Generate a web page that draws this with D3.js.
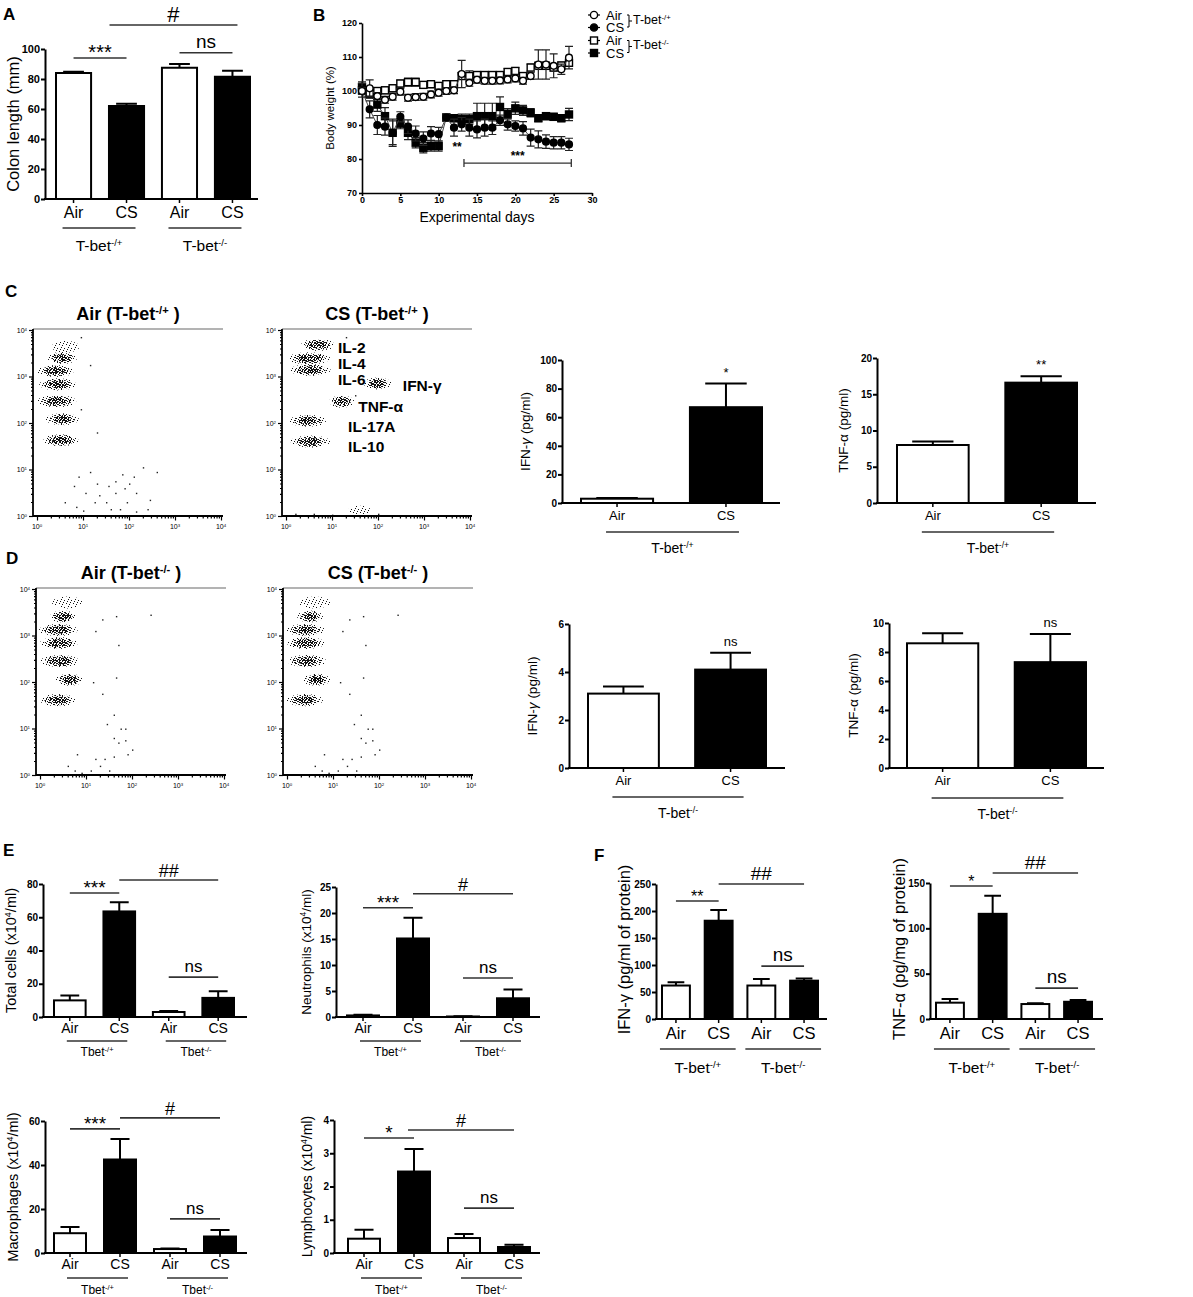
<!DOCTYPE html>
<html>
<head>
<meta charset="utf-8">
<script src="https://cdn.jsdelivr.net/npm/d3@7"></script>
<style>
  body { margin: 0; background: #fff; }
  text { font-family: "Liberation Sans", Arial, sans-serif; }
</style>
</head>
<body>
<script>
// ---------------- data ----------------
// A: colon length
const aCats = ["Air", "CS", "Air", "CS"];
const aColon = [84, 62, 87.5, 81.5];
const aColonErr = [0.8, 1.5, 2.5, 4];

// B: body weight over time
const bDays = [0, 1, 2, 3, 4, 5, 6, 7, 8, 9, 10, 11, 12, 13, 14, 15, 16, 17, 18, 19, 20, 21, 22, 23, 24, 25, 26, 27];
const bAirHet = [100, 100.8, 98.5, 97.4, 98.3, 99.8, 98, 98.2, 98.3, 99, 99.5, 100, 100.2, 105, 102.4, 103.3, 103, 103, 103.1, 103.4, 103.7, 103, 104.4, 107.8, 107.8, 107.4, 106.4, 109.8];
const bAirHetErr = [1, 2.5, 1, 1, 1, 1, 1, 1, 1, 1, 1, 1, 1, 4, 1, 1, 1, 1, 1, 1, 1, 1, 1, 4.3, 4.3, 3.5, 1.5, 3.3];
const bCsHet = [100, 94.6, 90, 89.5, 87.7, 92.4, 89.5, 87.5, 86, 87.5, 87.3, 92.2, 89.2, 90.2, 89.2, 88.7, 89.2, 89.2, 91.4, 90.2, 89.7, 89, 86.3, 85.8, 85.1, 84.8, 84.8, 84.3];
const bCsHetErr = [1, 2.5, 2.8, 2.5, 3.5, 1.5, 2, 2.2, 2, 2, 2, 1, 2.5, 2, 2.5, 2.5, 2.5, 2, 1.5, 1.7, 1.5, 2, 2.5, 2.5, 2, 1.8, 1.8, 1.8];
const bAirKo = [100.2, 99.5, 100, 100.2, 100.8, 102.2, 102.6, 102.6, 101.8, 102, 101.5, 102, 102, 104.4, 104.4, 104.7, 104.7, 104.7, 104.7, 105.6, 105.9, 104.4, 106.9, 107.4, 107.4, 106.9, 107.5, 108.3];
const bAirKoErr = [2, 1, 1, 1, 1, 1, 1.2, 1.2, 1, 1, 1, 1, 1, 1, 1.5, 1, 1, 1, 1, 1, 1, 1, 1, 1, 1, 1, 1, 1];
const bCsKo = [101.2, 99, 96, 92.6, 87.7, 90.4, 87.7, 84.8, 83.3, 83.8, 83.8, 92.2, 92, 91.7, 91.7, 92.6, 92.6, 92.6, 95.3, 93.3, 94.9, 94.3, 93.6, 92, 92.6, 92.4, 92, 93.1];
const bCsKoErr = [1.5, 1, 2, 2.5, 4, 1.5, 2, 1.5, 1.5, 1.5, 1.5, 1, 1, 1.5, 1.5, 3.8, 3.8, 3.8, 3, 1.5, 1.8, 1.5, 1.2, 1, 1, 1, 1, 1.8];

// C / D flow plots: clusters [log10 x, log10 y, half-width (decades), half-height (decades), density]
const cAirClusters = [[0.62, 3.64, 0.3, 0.13, 0.4], [0.55, 3.4, 0.32, 0.13, 1], [0.4, 3.12, 0.4, 0.13, 1], [0.45, 2.83, 0.4, 0.13, 1], [0.43, 2.47, 0.42, 0.13, 1], [0.55, 2.08, 0.36, 0.13, 1], [0.52, 1.63, 0.38, 0.13, 1]];
const cAirDots = [[1.15, 0.95], [0.9, 0.85], [1.3, 0.7], [1.55, 0.65], [1.7, 0.75], [1.85, 0.9], [2.1, 0.85], [2.3, 1.05], [2.6, 0.95], [1.9, 0.6], [2.15, 0.5], [1.7, 0.5], [1.35, 0.45], [1.5, 0.3], [1.95, 0.3], [2.15, 0.1], [2.4, 0.15], [0.8, 0.65], [0.6, 0.3], [0.85, 0.2], [1.0, 0.12], [1.8, 0.15], [1.25, 0.3], [2.0, 0.7], [2.45, 0.35], [1.6, 0.15], [1.05, 0.5], [0.95, 2.3], [1.15, 3.25], [0.95, 3.85], [1.3, 1.8]];
const cCsClusters = [[0.69, 3.68, 0.36, 0.13, 1], [0.5, 3.39, 0.46, 0.13, 1], [0.53, 3.14, 0.44, 0.13, 1], [1.99, 2.85, 0.3, 0.13, 1], [1.21, 2.46, 0.27, 0.13, 1], [0.47, 2.05, 0.4, 0.13, 1], [0.53, 1.6, 0.43, 0.13, 1], [1.6, 0.12, 0.25, 0.1, 0.4]];
const cCsDots = [[1.0, 0.03], [0.6, 0.05], [2.0, 0.05], [1.2, 0.02], [1.3, 3.85], [1.5, 2.6], [0.2, 0.05]];
const cCsNames = ["IL-2", "IL-4", "IL-6", "IFN-γ", "TNF-α", "IL-17A", "IL-10"];
const cCsNamePos = [[1.13, 3.63], [1.13, 3.28], [1.13, 2.93], [2.54, 2.8], [1.57, 2.35], [1.35, 1.93], [1.35, 1.5]];
const dAirClusters = [[0.6, 3.71, 0.34, 0.13, 0.4], [0.5, 3.41, 0.28, 0.13, 1], [0.4, 3.12, 0.42, 0.13, 1], [0.41, 2.84, 0.41, 0.13, 1], [0.43, 2.45, 0.42, 0.13, 1], [0.64, 2.05, 0.3, 0.13, 1], [0.39, 1.61, 0.39, 0.13, 1]];
const dAirDots = [[0.8, 0.45], [1.1, 0.1], [1.2, 0.35], [0.75, 0.1], [0.6, 0.2], [1.4, 0.35], [1.5, 0.1], [1.6, 0.4], [1.7, 0.7], [1.75, 1.0], [1.6, 0.8], [1.85, 0.75], [1.9, 0.45], [2.0, 0.55], [1.85, 1.0], [1.6, 1.3], [1.2, 3.1], [1.35, 3.35], [1.7, 2.8], [2.4, 3.45], [1.65, 3.42], [1.45, 1.1], [1.3, 0.2], [0.9, 0.05], [1.15, 2.0], [1.65, 2.1], [1.35, 1.75]];
// the two T-bet-/- plots look identical in the source
const dCsClusters = dAirClusters;
const dCsDots = dAirDots;

// C / D cytokines
const cdCats = ["Air", "CS"];
const cIfn = [3, 67], cIfnErr = [0.5, 16.5];
const cTnf = [8, 16.6], cTnfErr = [0.5, 0.9];
const dIfn = [3.1, 4.1], dIfnErr = [0.3, 0.7];
const dTnf = [8.6, 7.3], dTnfErr = [0.7, 1.95];

// E: BAL cells
const eCats = ["Air", "CS", "Air", "CS"];
const eTotal = [10, 63.5, 3, 11.5], eTotalErr = [3, 5.5, 0.6, 4];
const eNeut = [0.3, 15.1, 0.1, 3.6], eNeutErr = [0.15, 4, 0.05, 1.7];
const eMac = [9, 42.5, 1.8, 7.5], eMacErr = [2.8, 9.3, 0.3, 3];
const eLym = [0.43, 2.45, 0.45, 0.18], eLymErr = [0.27, 0.68, 0.12, 0.07];

// F: lung cytokines
const fIfn = [62, 182, 62, 71], fIfnErr = [6, 20, 12, 4];
const fTnf = [18, 116, 16.5, 19], fTnfErr = [4, 20, 1, 2];

// ---------------- drawing ----------------
const svg = d3.select("body").append("svg")
  .attr("width", 1193).attr("height", 1297).style("display", "block");

const defs = svg.append("defs");
function dotPattern(id, size, pts) {
  const p = defs.append("pattern").attr("id", id).attr("patternUnits", "userSpaceOnUse")
    .attr("width", size).attr("height", size);
  pts.forEach(([x, y]) => p.append("rect").attr("x", x).attr("y", y).attr("width", 1).attr("height", 1).attr("fill", "#111"));
}
// speckle tiles for the flow cytometry clouds
dotPattern("dotS", 7, [[0, 0], [3, 1], [5, 4], [1, 5], [6, 2], [4, 6]]);
dotPattern("dotM", 5, [[0, 0], [2, 1], [4, 2], [1, 3], [3, 4], [0, 2], [4, 0]]);
dotPattern("dotD", 3, [[0, 0], [1, 2], [2, 1], [2, 0]]);

// text with optional superscript / italic parts
function rich(t, parts, size) {
  parts.forEach(p => {
    const [s, k] = Array.isArray(p) ? p : [p, ""];
    const ts = t.append("tspan").text(s);
    if (k === "sup") ts.attr("baseline-shift", "super").attr("font-size", size * 0.62);
    if (k === "it") ts.attr("font-style", "italic");
  });
  return t;
}

function panelLetter(t, x, y) {
  svg.append("text").attr("x", x).attr("y", y).attr("font-size", 17).attr("font-weight", "bold").text(t);
}

const het = ["T-bet", ["-/+", "sup"]];
const ko = ["T-bet", ["-/-", "sup"]];
const hetE = ["Tbet", ["-/+", "sup"]];
const koE = ["Tbet", ["-/-", "sup"]];

function barChart(o) {
  const g = svg.append("g");
  const n = o.values.length;
  const sw = o.sw || 2;
  const y = d3.scaleLinear().domain([0, o.max]).range([o.y0, o.yTop]);
  const x = d3.scaleBand().domain(d3.range(n)).range([o.bx0, o.bx1]).paddingInner(o.pad);
  const bw = x.bandwidth();
  const cx = i => x(i) + bw / 2;

  // bars
  g.selectAll("rect.bar").data(o.values).join("rect").attr("class", "bar")
    .attr("x", (d, i) => x(i) + sw / 2).attr("width", bw - sw)
    .attr("y", d => y(d)).attr("height", d => y(0) - y(d))
    .attr("fill", (d, i) => o.cats[i] === "CS" ? "#000" : "#fff")
    .attr("stroke", "#000").attr("stroke-width", sw);

  // error bars (upper SEM)
  g.selectAll("path.err").data(o.values).join("path").attr("class", "err")
    .attr("d", (d, i) => {
      const t = y(d + o.errs[i]), c = cx(i), h = bw * 0.28;
      return `M${c},${y(d)}V${t}M${c - h},${t}H${c + h}`;
    })
    .attr("stroke", "#000").attr("stroke-width", sw).attr("fill", "none");

  // y axis
  const ya = g.append("g").attr("transform", `translate(${o.ax},0)`)
    .call(d3.axisLeft(y).tickValues(d3.range(0, o.max + 1e-9, o.step)).tickFormat(d3.format("d"))
      .tickSize(o.tick || 4).tickSizeOuter(0).tickPadding(1));
  ya.select(".domain").attr("stroke-width", sw);
  ya.selectAll(".tick line").attr("stroke-width", sw);
  ya.selectAll(".tick text").attr("font-family", '"Liberation Sans", Arial, sans-serif')
    .attr("font-weight", "bold").attr("font-size", o.tf);

  // x baseline, ticks and categories
  g.append("line").attr("x1", o.ax - sw / 2).attr("x2", o.axEnd).attr("y1", y(0)).attr("y2", y(0))
    .attr("stroke", "#000").attr("stroke-width", sw);
  g.selectAll("line.xt").data(o.cats).join("line").attr("class", "xt")
    .attr("x1", (d, i) => cx(i)).attr("x2", (d, i) => cx(i))
    .attr("y1", y(0)).attr("y2", y(0) + 4).attr("stroke", "#000").attr("stroke-width", sw * 0.75);
  g.selectAll("text.cat").data(o.cats).join("text").attr("class", "cat")
    .attr("x", (d, i) => cx(i)).attr("y", o.catY).attr("dy", "0.36em")
    .attr("text-anchor", "middle").attr("font-size", o.cf).text(d => d);

  // group underlines
  (o.groups || []).forEach(gr => {
    g.append("line").attr("x1", cx(gr.from) - o.gExt[0]).attr("x2", cx(gr.to) + o.gExt[1])
      .attr("y1", o.gY).attr("y2", o.gY).attr("stroke", "#333").attr("stroke-width", 1.6);
    rich(g.append("text").attr("x", (cx(gr.from) + cx(gr.to)) / 2 + (o.gExt[1] - o.gExt[0]) / 2)
      .attr("y", o.gLY).attr("dy", "0.36em").attr("text-anchor", "middle").attr("font-size", o.gf), gr.label, o.gf);
  });

  // significance marks
  (o.sig || []).forEach(s => {
    const yy = y(s.v);
    const x1 = cx(s.i) + (s.dx ? s.dx[0] : 0), x2 = cx(s.j) + (s.dx ? s.dx[1] : 0);
    if (!s.noLine) {
      g.append("line").attr("x1", x1).attr("x2", x2).attr("y1", yy).attr("y2", yy)
        .attr("stroke", "#333").attr("stroke-width", 1.6);
    }
    g.append("text").attr("x", (x1 + x2) / 2).attr("y", yy - (s.gap || 0))
      .attr("text-anchor", "middle").attr("font-size", s.size).text(s.text);
  });

  // y title
  rich(g.append("text").attr("transform", `translate(${o.lx},${(o.y0 + o.yTop) / 2 + (o.ldy || 0)}) rotate(-90)`)
    .attr("text-anchor", "middle").attr("font-size", o.lf), o.yLabel, o.lf);
}

// ---- A ----
panelLetter("A", 3, 20);
barChart({
  values: aColon, errs: aColonErr, cats: aCats, max: 100, step: 20,
  ax: 45, axEnd: 258, yTop: 49, y0: 199, bx0: 55, bx1: 251, pad: 0.3, tf: 11,
  catY: 212, cf: 16, gY: 228, gLY: 245, gf: 15.5, gExt: [11, 9],
  groups: [{ from: 0, to: 1, label: het }, { from: 2, to: 3, label: ko }],
  sig: [
    { i: 0, j: 1, v: 94, text: "***", size: 20, gap: -1 },
    { i: 2, j: 3, v: 97.5, text: "ns", size: 19, gap: 5 },
    { i: 1, j: 3, v: 116, text: "#", size: 22, gap: 3, dx: [-17, 5] }
  ],
  yLabel: ["Colon length (mm)"], lx: 19, lf: 16.5
});

// ---- B ----
panelLetter("B", 313, 21);
(function () {
  const g = svg.append("g");
  const x = d3.scaleLinear().domain([0, 30]).range([362, 592]);
  const y = d3.scaleLinear().domain([70, 120]).range([193, 23]);
  const xa = g.append("g").attr("transform", `translate(0,${y(70)})`)
    .call(d3.axisBottom(x).tickValues(d3.range(0, 31, 5)).tickSize(3).tickSizeOuter(0).tickPadding(1));
  const ya = g.append("g").attr("transform", `translate(${x(0)},0)`)
    .call(d3.axisLeft(y).tickValues(d3.range(70, 121, 10)).tickSize(3).tickSizeOuter(0).tickPadding(2));
  [xa, ya].forEach(a => {
    a.selectAll(".domain, .tick line").attr("stroke-width", 1.6);
    a.selectAll(".tick text").attr("font-family", '"Liberation Sans", Arial, sans-serif')
      .attr("font-weight", "bold").attr("font-size", 9);
  });
  g.append("text").attr("x", 477).attr("y", 222).attr("text-anchor", "middle").attr("font-size", 14).text("Experimental days");
  g.append("text").attr("transform", `translate(334,${y(95)}) rotate(-90)`).attr("text-anchor", "middle")
    .attr("font-size", 11.5).text("Body weight (%)");

  const series = [
    { v: bCsKo, e: bCsKoErr, shape: "square", fill: "#000" },
    { v: bAirKo, e: bAirKoErr, shape: "square", fill: "#fff" },
    { v: bCsHet, e: bCsHetErr, shape: "circle", fill: "#000" },
    { v: bAirHet, e: bAirHetErr, shape: "circle", fill: "#fff" }
  ];
  const line = d3.line().x((d, i) => x(bDays[i])).y(d => y(d));
  series.forEach(s => {
    const sg = g.append("g");
    sg.selectAll("path.eb").data(s.v).join("path").attr("class", "eb")
      .attr("d", (d, i) => {
        const c = x(bDays[i]), lo = y(d - s.e[i]), hi = y(d + s.e[i]);
        return `M${c},${lo}V${hi}M${c - 4},${hi}H${c + 4}M${c - 4},${lo}H${c + 4}`;
      })
      .attr("stroke", "#222").attr("stroke-width", 1.2).attr("fill", "none");
    sg.append("path").attr("d", line(s.v)).attr("fill", "none").attr("stroke", "#444").attr("stroke-width", 1);
    if (s.shape === "circle") {
      sg.selectAll("circle").data(s.v).join("circle")
        .attr("cx", (d, i) => x(bDays[i])).attr("cy", d => y(d)).attr("r", 3.4)
        .attr("fill", s.fill).attr("stroke", "#000").attr("stroke-width", 1.4);
    } else {
      sg.selectAll("rect").data(s.v).join("rect")
        .attr("x", (d, i) => x(bDays[i]) - 3.5).attr("y", d => y(d) - 3.5).attr("width", 7).attr("height", 7)
        .attr("fill", s.fill).attr("stroke", "#000").attr("stroke-width", 1.4);
    }
  });
  // significance
  g.append("text").attr("x", x(12.4)).attr("y", y(82.3)).attr("text-anchor", "middle").attr("font-size", 12).attr("font-weight", "bold").text("**");
  g.append("text").attr("x", x(20.3)).attr("y", y(79.8)).attr("text-anchor", "middle").attr("font-size", 12).attr("font-weight", "bold").text("***");
  g.append("path").attr("d", `M${x(13.3)},${y(78.8) - 4}v8M${x(13.3)},${y(78.8)}H${x(27.3)}M${x(27.3)},${y(78.8) - 4}v8`)
    .attr("stroke", "#333").attr("stroke-width", 1.3).attr("fill", "none");

  // legend
  const lg = g.append("g");
  const rows = [
    { shape: "circle", fill: "#fff", t: "Air", yy: 15 },
    { shape: "circle", fill: "#000", t: "CS", yy: 27.5 },
    { shape: "square", fill: "#fff", t: "Air", yy: 40.5 },
    { shape: "square", fill: "#000", t: "CS", yy: 53 }
  ];
  rows.forEach(r => {
    lg.append("line").attr("x1", 588).attr("x2", 600).attr("y1", r.yy).attr("y2", r.yy).attr("stroke", "#000").attr("stroke-width", 1.2);
    if (r.shape === "circle") lg.append("circle").attr("cx", 594).attr("cy", r.yy).attr("r", 3.6).attr("fill", r.fill).attr("stroke", "#000").attr("stroke-width", 1.4);
    else lg.append("rect").attr("x", 590.5).attr("y", r.yy - 3.5).attr("width", 7).attr("height", 7).attr("fill", r.fill).attr("stroke", "#000").attr("stroke-width", 1.4);
    lg.append("text").attr("x", 606).attr("y", r.yy).attr("dy", "0.36em").attr("font-size", 13).text(r.t);
  });
  [[21, het], [46.5, ko]].forEach(([yy, lab]) => {
    lg.append("path").attr("d", `M627,${yy - 6}h2v12h-2M629,${yy}h3`).attr("stroke", "#000").attr("stroke-width", 1).attr("fill", "none");
    rich(lg.append("text").attr("x", 633).attr("y", yy - 2).attr("dy", "0.36em").attr("font-size", 12.5), lab, 12.5);
  });
})();

// ---- C / D flow plots ----
function flowPlot(o) {
  const g = svg.append("g");
  const xs = d3.scaleLog().domain([1, 1e4]).range([o.ox + 4, o.ox + 188]);
  const ys = d3.scaleLog().domain([1, 1e4]).range([o.bottom, o.top + 1]);
  const dpx = xs(10) - xs(1), dpy = ys(1) - ys(10);

  rich(g.append("text").attr("x", o.ox + 95).attr("y", o.top - 9).attr("text-anchor", "middle")
    .attr("font-size", 18).attr("font-weight", "bold"), o.title, 18);
  g.append("line").attr("x1", o.ox).attr("x2", o.ox + 190).attr("y1", o.top).attr("y2", o.top)
    .attr("stroke", "#9a9a9a").attr("stroke-width", 1.5);

  [[1, "dotS", 0], [0.75, "dotM", 0.5], [0.5, "dotD", 0.5]].forEach(([k, pat, minD]) => {
    g.append("g").selectAll("ellipse").data(o.clusters.filter(c => c[4] >= minD)).join("ellipse")
      .attr("cx", d => xs(10 ** d[0])).attr("cy", d => ys(10 ** d[1]))
      .attr("rx", d => d[2] * dpx * k).attr("ry", d => d[3] * dpy * (k < 1 ? k * 1.15 : 1))
      .attr("fill", `url(#${pat})`);
  });
  g.append("g").selectAll("rect").data(o.dots).join("rect")
    .attr("x", d => xs(10 ** d[0])).attr("y", d => ys(10 ** d[1])).attr("width", 1.4).attr("height", 1.4)
    .attr("fill", "#222");

  // axes with log minor ticks
  const tv = [];
  for (let k = 0; k < 4; k++) for (let m = 1; m < 10; m++) tv.push(m * 10 ** k);
  tv.push(1e4);
  const isMajor = v => Math.abs(Math.log10(v) - Math.round(Math.log10(v))) < 1e-9;
  const xa = g.append("g").attr("transform", `translate(0,${o.bottom})`)
    .call(d3.axisBottom(xs).tickValues(tv).tickFormat("").tickSizeOuter(0));
  xa.selectAll(".tick line").attr("y2", d => isMajor(d) ? 4.5 : 2.5).attr("stroke-width", 1.2);
  const ya = g.append("g").attr("transform", `translate(${o.ox},0)`)
    .call(d3.axisLeft(ys).tickValues(tv).tickFormat("").tickSizeOuter(0));
  ya.selectAll(".tick line").attr("x2", d => isMajor(d) ? -4 : -2).attr("stroke-width", 1.2);
  [xa, ya].forEach(a => a.select(".domain").remove());
  g.append("line").attr("x1", o.ox).attr("x2", o.ox + 190).attr("y1", o.bottom).attr("y2", o.bottom).attr("stroke", "#000").attr("stroke-width", 1.8);
  g.append("line").attr("x1", o.ox).attr("x2", o.ox).attr("y1", o.top).attr("y2", o.bottom).attr("stroke", "#000").attr("stroke-width", 1.8);

  const dec = [0, 1, 2, 3, 4];
  dec.forEach(k => {
    rich(g.append("text").attr("x", xs(10 ** k)).attr("y", o.bottom + 13).attr("text-anchor", "middle").attr("font-size", 7), ["10", [String(k), "sup"]], 7);
    rich(g.append("text").attr("x", o.ox - 6).attr("y", ys(10 ** k) + 2.5).attr("text-anchor", "end").attr("font-size", 7), ["10", [String(k), "sup"]], 7);
  });

  if (o.names) {
    g.selectAll("text.nm").data(o.names).join("text").attr("class", "nm")
      .attr("x", (d, i) => xs(10 ** o.namePos[i][0])).attr("y", (d, i) => ys(10 ** o.namePos[i][1]))
      .attr("dy", "0.35em").attr("font-family", '"Liberation Serif", "Times New Roman", serif')
      .attr("font-weight", "bold").attr("font-size", 15.5).text(d => d);
  }
}

panelLetter("C", 5, 297);
flowPlot({ ox: 33, top: 329, bottom: 516, title: ["Air (T-bet", ["-/+", "sup"], " )"], clusters: cAirClusters, dots: cAirDots });
flowPlot({ ox: 282, top: 329, bottom: 516, title: ["CS (T-bet", ["-/+", "sup"], " )"], clusters: cCsClusters, dots: cCsDots, names: cCsNames, namePos: cCsNamePos });
panelLetter("D", 6, 564);
flowPlot({ ox: 36, top: 588, bottom: 775, title: ["Air (T-bet", ["-/-", "sup"], " )"], clusters: dAirClusters, dots: dAirDots });
flowPlot({ ox: 283, top: 588, bottom: 775, title: ["CS (T-bet", ["-/-", "sup"], " )"], clusters: dCsClusters, dots: dCsDots });

// C / D cytokine bars
const ifnIt = ["IFN-", ["γ", "it"], " (pg/ml)"];
const tnfLab = ["TNF-α (pg/ml)"];
barChart({
  values: cIfn, errs: cIfnErr, cats: cdCats, max: 100, step: 20,
  ax: 562, axEnd: 780, yTop: 360, y0: 503, bx0: 580, bx1: 763, pad: 0.32, tf: 10,
  catY: 515, cf: 13, gY: 532, gLY: 548, gf: 14, gExt: [11, 13],
  groups: [{ from: 0, to: 1, label: het }],
  sig: [{ i: 1, j: 1, v: 88, text: "*", size: 13, noLine: true }],
  yLabel: ifnIt, lx: 530, lf: 13.5, ldy: 0
});
barChart({
  values: cTnf, errs: cTnfErr, cats: cdCats, max: 20, step: 5,
  ax: 877, axEnd: 1096, yTop: 358, y0: 503, bx0: 896, bx1: 1078, pad: 0.32, tf: 10,
  catY: 515, cf: 13, gY: 532, gLY: 548, gf: 14, gExt: [11, 13],
  groups: [{ from: 0, to: 1, label: het }],
  sig: [{ i: 1, j: 1, v: 18.5, text: "**", size: 13, noLine: true }],
  yLabel: tnfLab, lx: 848, lf: 13.5
});
barChart({
  values: dIfn, errs: dIfnErr, cats: cdCats, max: 6, step: 2,
  ax: 569, axEnd: 785, yTop: 624, y0: 768, bx0: 587, bx1: 767, pad: 0.32, tf: 10,
  catY: 780, cf: 13, gY: 797, gLY: 813, gf: 14, gExt: [11, 13],
  groups: [{ from: 0, to: 1, label: ko }],
  sig: [{ i: 1, j: 1, v: 5.08, text: "ns", size: 13, noLine: true }],
  yLabel: ifnIt, lx: 537, lf: 13.5
});
barChart({
  values: dTnf, errs: dTnfErr, cats: cdCats, max: 10, step: 2,
  ax: 889, axEnd: 1104, yTop: 623, y0: 768, bx0: 906, bx1: 1087, pad: 0.32, tf: 10,
  catY: 780, cf: 13, gY: 798, gLY: 814, gf: 14, gExt: [11, 13],
  groups: [{ from: 0, to: 1, label: ko }],
  sig: [{ i: 1, j: 1, v: 9.72, text: "ns", size: 13, noLine: true }],
  yLabel: tnfLab, lx: 858, lf: 13.5
});

// ---- E ----
panelLetter("E", 3, 856);
const eCommon = { cats: eCats, pad: 0.32, tf: 10, cf: 14, gf: 12, gExt: [3, 8], lf: 14.5 };
barChart(Object.assign({}, eCommon, {
  values: eTotal, errs: eTotalErr, max: 80, step: 20,
  ax: 43, axEnd: 247, yTop: 884, y0: 1017, bx0: 53, bx1: 235,
  catY: 1028, gY: 1041, gLY: 1052,
  groups: [{ from: 0, to: 1, label: hetE }, { from: 2, to: 3, label: koE }],
  sig: [
    { i: 0, j: 1, v: 74.6, text: "***", size: 19, gap: -1 },
    { i: 1, j: 3, v: 82.4, text: "##", size: 18, gap: 3 },
    { i: 2, j: 3, v: 24, text: "ns", size: 17, gap: 5 }
  ],
  yLabel: ["Total cells (x10", ["4", "sup"], "/ml)"], lx: 16
}));
barChart(Object.assign({}, eCommon, {
  values: eNeut, errs: eNeutErr, max: 25, step: 5,
  ax: 336, axEnd: 540, yTop: 887, y0: 1017, bx0: 346, bx1: 530,
  catY: 1028, gY: 1041, gLY: 1052,
  groups: [{ from: 0, to: 1, label: hetE }, { from: 2, to: 3, label: koE }],
  sig: [
    { i: 0, j: 1, v: 21, text: "***", size: 19, gap: -1 },
    { i: 1, j: 3, v: 23.7, text: "#", size: 18, gap: 3 },
    { i: 2, j: 3, v: 7.5, text: "ns", size: 17, gap: 5 }
  ],
  yLabel: ["Neutrophils (x10", ["4", "sup"], "/ml)"], lx: 311, lf: 13.5
}));
barChart(Object.assign({}, eCommon, {
  values: eMac, errs: eMacErr, max: 60, step: 20,
  ax: 45, axEnd: 247, yTop: 1121, y0: 1253, bx0: 53, bx1: 237,
  catY: 1264, gY: 1278, gLY: 1290,
  groups: [{ from: 0, to: 1, label: hetE }, { from: 2, to: 3, label: koE }],
  sig: [
    { i: 0, j: 1, v: 56.4, text: "***", size: 19, gap: -1 },
    { i: 1, j: 3, v: 61.4, text: "#", size: 18, gap: 3 },
    { i: 2, j: 3, v: 15.5, text: "ns", size: 17, gap: 5 }
  ],
  yLabel: ["Macrophages (x10", ["4", "sup"], "/ml)"], lx: 18
}));
barChart(Object.assign({}, eCommon, {
  values: eLym, errs: eLymErr, max: 4, step: 1,
  ax: 334, axEnd: 540, yTop: 1120, y0: 1253, bx0: 347, bx1: 531,
  catY: 1264, gY: 1278, gLY: 1290,
  groups: [{ from: 0, to: 1, label: hetE }, { from: 2, to: 3, label: koE }],
  sig: [
    { i: 0, j: 1, v: 3.46, text: "*", size: 19, gap: -1 },
    { i: 1, j: 3, v: 3.7, text: "#", size: 18, gap: 3, dx: [-6, 0] },
    { i: 2, j: 3, v: 1.35, text: "ns", size: 17, gap: 5 }
  ],
  yLabel: ["Lymphocytes (x10", ["4", "sup"], "/ml)"], lx: 312, lf: 14
}));

// ---- F ----
panelLetter("F", 594, 861);
const fCommon = { cats: eCats, pad: 0.3, tf: 10, cf: 16.5, gf: 15.5, gExt: [16, 17], lf: 16.5, catY: 1033, gY: 1049, gLY: 1067 };
barChart(Object.assign({}, fCommon, {
  values: fIfn, errs: fIfnErr, max: 250, step: 50,
  ax: 656, axEnd: 827, yTop: 884, y0: 1019, bx0: 661, bx1: 819,
  groups: [{ from: 0, to: 1, label: het }, { from: 2, to: 3, label: ko }],
  sig: [
    { i: 0, j: 1, v: 218.5, text: "**", size: 16, gap: -1 },
    { i: 1, j: 3, v: 250, text: "##", size: 19, gap: 4 },
    { i: 2, j: 3, v: 98, text: "ns", size: 19, gap: 5 }
  ],
  yLabel: ["IFN-γ (pg/ml of protein)"], lx: 630, ldy: -2
}));
barChart(Object.assign({}, fCommon, {
  values: fTnf, errs: fTnfErr, max: 150, step: 50,
  ax: 930, axEnd: 1103, yTop: 883, y0: 1019, bx0: 935, bx1: 1093,
  groups: [{ from: 0, to: 1, label: het }, { from: 2, to: 3, label: ko }],
  sig: [
    { i: 0, j: 1, v: 146.7, text: "*", size: 16, gap: -1 },
    { i: 1, j: 3, v: 161, text: "##", size: 19, gap: 4 },
    { i: 2, j: 3, v: 34, text: "ns", size: 19, gap: 5 }
  ],
  yLabel: ["TNF-α (pg/mg of protein)"], lx: 905, ldy: -2
}));
</script>
</body>
</html>
